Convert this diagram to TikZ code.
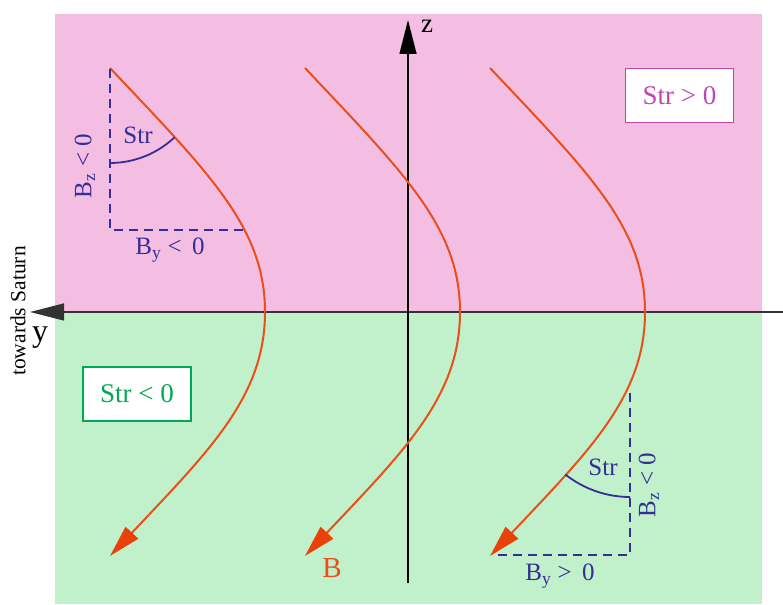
\documentclass[tikz,border=0pt]{standalone}
\usepackage{fontspec}
\setmainfont{Liberation Serif}
\usetikzlibrary{arrows.meta}
\definecolor{pinkbg}{RGB}{244,190,227}
\definecolor{greenbg}{RGB}{193,241,203}
\definecolor{fieldline}{RGB}{234,78,26}
\definecolor{arrowor}{RGB}{232,66,10}
\definecolor{dashblue}{RGB}{52,46,150}
\definecolor{strpos}{RGB}{190,70,180}
\definecolor{strneg}{RGB}{0,168,82}
\begin{document}
\begin{tikzpicture}[x=1pt,y=1pt,
  bline/.style={line width=2pt, draw=fieldline, -{Triangle[length=32pt,width=17pt,fill=arrowor,color=arrowor]}},
  axisline/.style={line width=1.4pt, draw=black, -{Triangle[length=34pt,width=17pt]}},
  dashline/.style={line width=2pt, draw=dashblue, dash pattern=on 9pt off 6pt},
  arcline/.style={line width=1.8pt, draw=dashblue},
  lbl/.style={font=\fontsize{25}{28}\selectfont, text=dashblue, inner sep=0pt},
  strbox/.style={draw=#1, line width=1.8pt, fill=white, text=#1, minimum width=108pt, minimum height=54pt, inner sep=0pt, font=\fontsize{27}{30}\selectfont}
]
\useasboundingbox (0,0) rectangle (783,604);
\fill[pinkbg] (55,292) rectangle (762,590);
\fill[greenbg] (55,0) rectangle (762,292);

% axes
\coordinate (ystart) at (783,292);
\coordinate (yend) at (30,292);
\coordinate (zstart) at (408,21);
\coordinate (zend) at (408,584);
\draw[axisline, draw=black!80] (ystart) -- (yend);
\draw[axisline] (zstart) -- (zend);
\node[font=\fontsize{32}{34}\selectfont, inner sep=0pt] (ylab) at (40,266) {y};
\node[font=\fontsize{27}{30}\selectfont, inner sep=0pt] (zlab) at (427,578) {z};
\node[rotate=90, font=\fontsize{21.5}{23}\selectfont, inner sep=0pt] (saturn) at (18,293) {towards Saturn};

% field lines
\foreach \x in {110,305,490}{
  \draw[bline] (\x,536) .. controls (\x+100,430) and (\x+155,376) .. (\x+155,292)
     .. controls (\x+155,208) and (\x+100,154) .. (\x,48);
}
\node[font=\fontsize{29}{32}\selectfont, text=fieldline, inner sep=0pt] (blab) at (332,36) {B};

% upper-left component sketch
\coordinate (ulA) at (110,535);
\coordinate (ulB) at (110,374);
\coordinate (ulC) at (245,374);
\draw[dashline] (ulA) -- (ulB) -- (ulC);
\draw[arcline] (ulA) ++(270:94pt) arc[start angle=270, end angle=313.3, radius=94pt];
\node[lbl] (strul) at (138,469) {Str};
\node[lbl, rotate=90] (bzul) at (85,438) {B\textsubscript{z} < 0};
\node[lbl] (byul) at (170,354) {B\textsubscript{y} < \,0};

% lower-right component sketch
\coordinate (lrA) at (630,211);
\coordinate (lrB) at (630,49);
\coordinate (lrC) at (493,49);
\draw[dashline] (lrA) -- (lrB) -- (lrC);
\draw[arcline] (lrA) ++(231.6:104pt) arc[start angle=231.6, end angle=270, radius=104pt];
\node[lbl] (strlr) at (603,137) {Str};
\node[lbl, rotate=90] (bzlr) at (649,119) {B\textsubscript{z} < 0};
\node[lbl] (bylr) at (560,28) {B\textsubscript{y} > \,0};

% boxes
\node[strbox=strpos] (strp) at (679.5,508.5) {Str > 0};
\node[strbox=strneg] (strn) at (137,210) {Str < 0};
\end{tikzpicture}
\end{document}
